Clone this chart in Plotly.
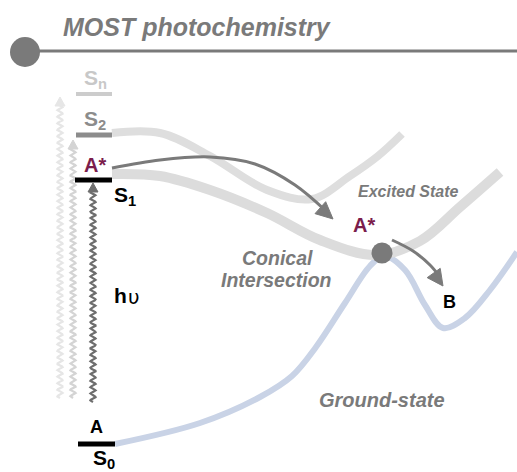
import numpy as np
import plotly.graph_objects as go

W, H = 517, 472
FONT = "Liberation Sans, Arial, sans-serif"
GRAY = "#7a7a7a"
MAROON = "#7b1d4c"

# ---- data (diagram geometry in picture coordinates) ----
level_names = ["Sn", "S2", "S1", "S0"]
level_y = [94, 135, 180, 444]
level_x0 = [76, 76, 75, 78]
level_x1 = [112, 112, 112, 115]
level_colors = ["#cccccc", "#8c8c8c", "#000000", "#000000"]
level_widths = [4, 5, 5, 5]

s2_curve_x = [112, 160, 210, 267, 312, 350, 378, 402]
s2_curve_y = [133, 133, 156, 190, 199, 176, 156, 134]

s1_curve_x = [112, 160, 210, 267, 320, 376, 420, 460, 500]
s1_curve_y = [174, 176, 190, 213, 240, 255, 241, 207, 172]

gs_curve_x = [115, 200, 260, 292, 316, 345, 370, 384, 405, 425, 443, 465, 490, 517]
gs_curve_y = [444, 423, 397, 376, 347, 303, 266, 256, 270, 305, 328, 318, 290, 252]

arrow1_x = [112, 160, 210, 255, 295, 333]
arrow1_y = [168, 160, 157, 164, 185, 219]
arrow2_x = [392, 413, 430, 443]
arrow2_y = [240, 251, 265, 286]

wave_x = [60, 73, 93]
wave_top = [97, 140, 183]
wave_bottom = [398, 398, 402]
wave_colors = ["#e6e6e6", "#d4d4d4", "#6e6e6e"]

ci_x, ci_y = [382], [253]

fig = go.Figure()


def add_line(x, y, color, width, shape="spline"):
    fig.add_trace(go.Scatter(x=x, y=y, mode="lines",
                             line=dict(color=color, width=width, shape=shape, smoothing=1.0),
                             hoverinfo="skip", showlegend=False))


def add_head(tip, prev, color, length, half):
    tip = np.array(tip, float)
    d = tip - np.array(prev, float)
    d /= np.linalg.norm(d)
    n = np.array([-d[1], d[0]])
    base = tip - d * length
    pts = [tip, base + n * half, base - n * half, tip]
    fig.add_trace(go.Scatter(x=[p[0] for p in pts], y=[p[1] for p in pts], mode="lines",
                             fill="toself", fillcolor=color, line=dict(color=color, width=1),
                             hoverinfo="skip", showlegend=False))


# header rule and dot
add_line([38, W], [51, 51], GRAY, 3, "linear")
fig.add_trace(go.Scatter(x=[25], y=[52], mode="markers",
                         marker=dict(size=30, color=GRAY), hoverinfo="skip", showlegend=False))

# wavy excitation arrows
for x0, yt, yb, c in zip(wave_x, wave_top, wave_bottom, wave_colors):
    yy = np.linspace(yb, yt + 8, 400)
    xx = x0 + 2.6 * np.sin(2 * np.pi * (yy - yb) / 6.5)
    add_line(list(xx), list(yy), c, 2.2, "linear")
    add_head((x0, yt), (x0, yt + 10), c, 9, 5)

# potential energy curves
add_line(gs_curve_x, gs_curve_y, "#c9d3e6", 6)
add_line(s2_curve_x, s2_curve_y, "#dedede", 8)
add_line(s1_curve_x, s1_curve_y, "#dcdcdc", 10)

# energy levels
for x0, x1, y, c, w in zip(level_x0, level_x1, level_y, level_colors, level_widths):
    add_line([x0, x1], [y, y], c, w, "linear")

# curved arrows
add_line(arrow1_x[:-1] + [arrow1_x[-1] - 6], arrow1_y[:-1] + [arrow1_y[-1] - 7], GRAY, 3)
add_head((arrow1_x[-1], arrow1_y[-1]), (arrow1_x[-2], arrow1_y[-2]), GRAY, 17, 8)
add_line(arrow2_x[:-1] + [arrow2_x[-1] - 3], arrow2_y[:-1] + [arrow2_y[-1] - 9], GRAY, 3)
add_head((arrow2_x[-1], arrow2_y[-1]), (arrow2_x[-2] - 2, arrow2_y[-2]), GRAY, 16, 8)

# conical intersection point
fig.add_trace(go.Scatter(x=ci_x, y=ci_y, mode="markers",
                         marker=dict(size=21, color=GRAY), hoverinfo="skip", showlegend=False))

ann = []


def text(x, y, s, size, color, bold=True, italic=False, xanchor="center", family=FONT):
    t = s
    if bold:
        t = "<b>" + t + "</b>"
    if italic:
        t = "<i>" + t + "</i>"
    ann.append(dict(x=x, y=y, text=t, showarrow=False, xanchor=xanchor, yanchor="middle",
                    font=dict(family=family, size=size, color=color)))


text(61, 27, "MOST photochemistry", 25, GRAY, italic=True, xanchor="left")
text(82, 79, "S<sub>n</sub>", 21, "#c8c8c8", xanchor="left")
text(82, 120, "S<sub>2</sub>", 21, "#8c8c8c", xanchor="left")
text(95, 165, "A*", 20, MAROON)
text(112, 196, "S<sub>1</sub>", 21, "#000000", xanchor="left")
text(112, 295, "h", 21, "#000000", xanchor="left")
text(126, 297, "υ", 20, "#000000", bold=False, xanchor="left",
     family="DejaVu Sans, Noto Sans, sans-serif")
text(96, 427, "A", 18, "#000000")
text(91, 459, "S<sub>0</sub>", 21, "#000000", xanchor="left")
text(408, 191, "Excited State", 16, GRAY, italic=True)
text(364, 225, "A*", 20, MAROON)
text(277, 258, "Conical", 19.5, GRAY, italic=True)
text(276, 280, "Intersection", 19.5, GRAY, italic=True)
text(449, 302, "B", 18, "#000000")
text(382, 400, "Ground-state", 20, GRAY, italic=True)

fig.update_layout(
    width=W, height=H, margin=dict(l=0, r=0, t=0, b=0),
    paper_bgcolor="white", plot_bgcolor="white",
    xaxis=dict(range=[0, W], visible=False, fixedrange=True),
    yaxis=dict(range=[H, 0], visible=False, fixedrange=True),
    annotations=ann, showlegend=False, hovermode=False,
)
fig.write_html("out.html", config={"displayModeBar": False},
               post_script="document.body.style.margin='0';document.body.style.overflow='hidden';")
